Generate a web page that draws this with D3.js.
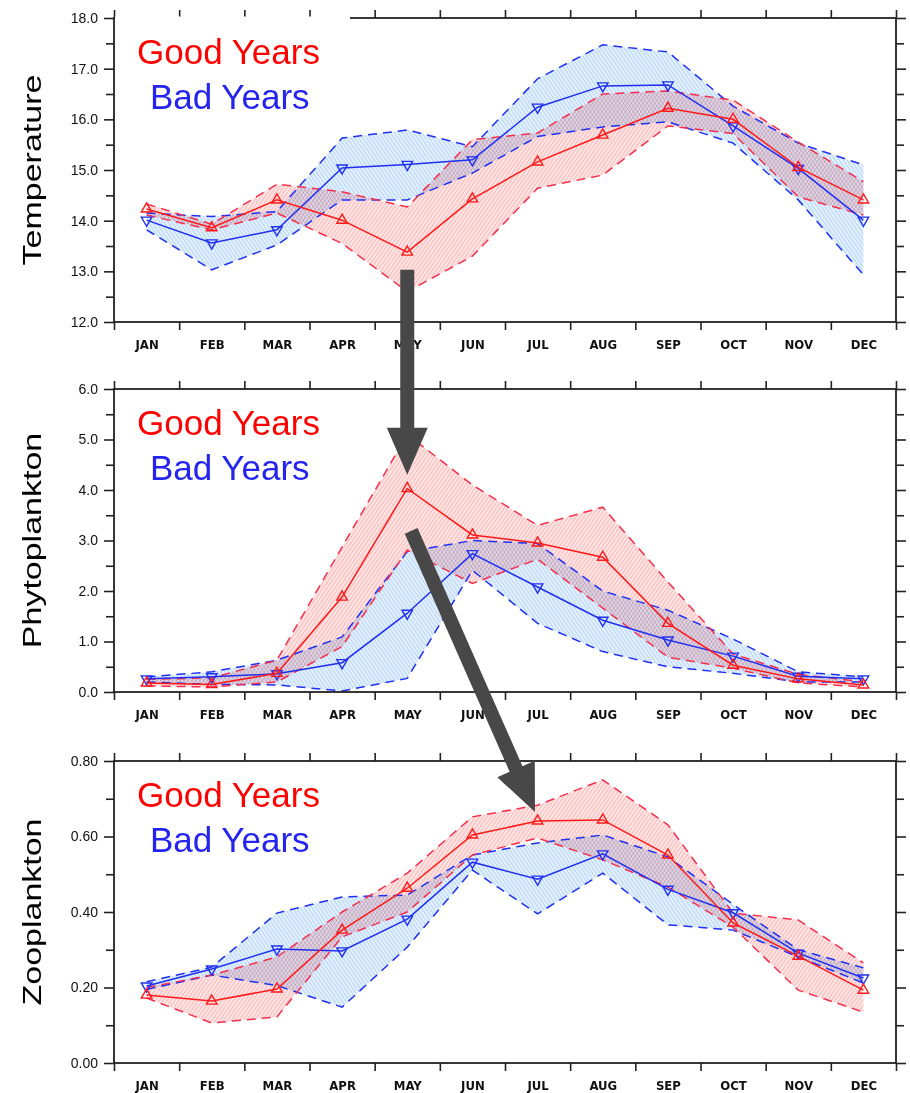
<!DOCTYPE html>
<html lang="en">
<head>
<meta charset="UTF-8">
<title>Good Years vs Bad Years</title>
<script src="https://d3js.org/d3.v7.min.js"></script>
<style>
  body { margin: 0; background: #fff; }
  svg { display: block; }
  .ylab text { font-family: "Liberation Sans", Arial, sans-serif; font-size: 14px; fill: #111; }
  .xlab text { font-family: "Liberation Sans Narrow", "DejaVu Sans Condensed", sans-serif; font-size: 13px; font-weight: bold; fill: #111; }
  .tick line { stroke: #222; stroke-width: 1.6px; }
  .title { font-family: "Liberation Sans", Arial, sans-serif; font-size: 34px; fill: #000; }
  .legend { font-family: "Liberation Sans", Arial, sans-serif; font-size: 35px; }
</style>
</head>
<body>
<svg id="chart" width="910" height="1093"></svg>
<script>
// months on the x axis
const months = ["JAN", "FEB", "MAR", "APR", "MAY", "JUN", "JUL", "AUG", "SEP", "OCT", "NOV", "DEC"];

// temperature: good years (red) and bad years (blue), mean with upper/lower envelope
const tempGood   = [14.23, 13.86, 14.41, 14.01, 13.38, 14.43, 15.16, 15.69, 16.22, 16.00, 15.05, 14.41];
const tempGoodHi = [14.33, 13.93, 14.72, 14.57, 14.27, 15.60, 15.73, 16.50, 16.56, 16.38, 15.55, 14.77];
const tempGoodLo = [14.11, 13.82, 14.15, 13.55, 12.60, 13.30, 14.64, 14.90, 15.87, 15.72, 14.47, 14.11];
const tempBad    = [14.01, 13.56, 13.82, 15.04, 15.11, 15.20, 16.24, 16.66, 16.68, 15.87, 15.03, 14.01];
const tempBadHi  = [14.15, 14.08, 14.18, 15.63, 15.79, 15.46, 16.80, 17.47, 17.33, 16.26, 15.53, 15.10];
const tempBadLo  = [13.82, 13.03, 13.52, 14.41, 14.41, 14.94, 15.66, 15.85, 15.95, 15.53, 14.41, 12.93];

// phytoplankton
const phytoGood   = [0.18, 0.15, 0.37, 1.88, 4.03, 3.11, 2.95, 2.67, 1.36, 0.53, 0.26, 0.14];
const phytoGoodHi = [0.25, 0.28, 0.63, 2.87, 5.10, 4.10, 3.30, 3.66, 2.18, 0.75, 0.35, 0.20];
const phytoGoodLo = [0.12, 0.10, 0.20, 0.90, 2.81, 2.15, 2.63, 1.66, 0.69, 0.47, 0.18, 0.10];
const phytoBad    = [0.26, 0.30, 0.36, 0.58, 1.56, 2.74, 2.08, 1.42, 1.03, 0.71, 0.31, 0.26];
const phytoBadHi  = [0.30, 0.40, 0.63, 1.09, 2.78, 3.00, 2.94, 2.00, 1.62, 1.05, 0.40, 0.30];
const phytoBadLo  = [0.20, 0.15, 0.14, 0.02, 0.27, 2.41, 1.36, 0.80, 0.50, 0.37, 0.20, 0.20];

// zooplankton
const zooGood   = [0.180, 0.164, 0.196, 0.352, 0.463, 0.604, 0.641, 0.644, 0.551, 0.371, 0.283, 0.193];
const zooGoodHi = [0.200, 0.233, 0.281, 0.400, 0.503, 0.652, 0.683, 0.750, 0.631, 0.397, 0.379, 0.265];
const zooGoodLo = [0.172, 0.106, 0.122, 0.334, 0.400, 0.551, 0.596, 0.538, 0.466, 0.360, 0.193, 0.135];
const zooBad    = [0.204, 0.249, 0.302, 0.297, 0.381, 0.532, 0.487, 0.554, 0.460, 0.398, 0.291, 0.225];
const zooBadHi  = [0.215, 0.254, 0.397, 0.440, 0.445, 0.551, 0.583, 0.604, 0.546, 0.420, 0.300, 0.252];
const zooBadLo  = [0.195, 0.233, 0.205, 0.148, 0.307, 0.511, 0.395, 0.503, 0.366, 0.352, 0.281, 0.212];

// y tick values per panel
const tempTicks  = [12, 13, 14, 15, 16, 17, 18];
const phytoTicks = [0, 1, 2, 3, 4, 5, 6];
const zooTicks   = [0, 0.2, 0.4, 0.6, 0.8];

// arrows: [panel, month index, value] start -> end
const arrows = [
  { from: [0, 4, 13.03], to: [1, 4, 4.3] },
  { from: [1, 4.06, 3.19], to: [2, 5.96, 0.665] }
];

const svg = d3.select("#chart");
const RED = "#ff1a1a", RED_D = "#f2304e", BLUE = "#2030f0";

const x = d3.scaleLinear().domain([-0.5, 11.5]).range([114, 896]);

const panels = [
  { title: "Temperature", top: 18, bottom: 322, domain: [12, 18], ticks: tempTicks, minor: 0.5, fmt: d3.format(".1f"),
    good: tempGood, goodHi: tempGoodHi, goodLo: tempGoodLo, bad: tempBad, badHi: tempBadHi, badLo: tempBadLo },
  { title: "Phytoplankton", top: 389, bottom: 692, domain: [0, 6], ticks: phytoTicks, minor: 0.5, fmt: d3.format(".1f"),
    good: phytoGood, goodHi: phytoGoodHi, goodLo: phytoGoodLo, bad: phytoBad, badHi: phytoBadHi, badLo: phytoBadLo },
  { title: "Zooplankton", top: 761, bottom: 1063, domain: [0, 0.8], ticks: zooTicks, minor: 0.1, fmt: d3.format(".2f"),
    good: zooGood, goodHi: zooGoodHi, goodLo: zooGoodLo, bad: zooBad, badHi: zooBadHi, badLo: zooBadLo }
];

// hatch patterns
const defs = svg.append("defs");
function hatch(id, color, angle) {
  defs.append("pattern")
    .attr("id", id)
    .attr("patternUnits", "userSpaceOnUse")
    .attr("width", 3.2).attr("height", 3.2)
    .attr("patternTransform", `rotate(${angle})`)
    .append("line")
      .attr("x1", 0).attr("y1", 0).attr("x2", 0).attr("y2", 3.2)
      .attr("stroke", color).attr("stroke-width", 0.9);
}
hatch("hatchRed", "#ffa3a3", 35);
hatch("hatchBlue", "#a9c6ff", -35);

panels.forEach(p => {
  p.y = d3.scaleLinear().domain(p.domain).range([p.bottom, p.top]);
});

panels.forEach((p, pi) => {
  const y = p.y;
  const g = svg.append("g");
  const idx = d3.range(12);

  const area = (lo, hi) => d3.area().x(i => x(i)).y0(i => y(lo[i])).y1(i => y(hi[i]))(idx);
  const line = d3.line().x((d, i) => x(i)).y(d => y(d));

  // bands
  [[p.badLo, p.badHi, "#e0effc", "hatchBlue"], [p.goodLo, p.goodHi, "#fde2e2", "hatchRed"]].forEach(([lo, hi, fill, pat]) => {
    g.append("path").attr("d", area(lo, hi)).attr("fill", fill)
      .style("mix-blend-mode", "multiply");
    g.append("path").attr("d", area(lo, hi)).attr("fill", `url(#${pat})`)
      .style("mix-blend-mode", "multiply");
  });

  // envelope lines
  [[p.badHi, BLUE], [p.badLo, BLUE], [p.goodHi, RED_D], [p.goodLo, RED_D]].forEach(([s, c]) => {
    g.append("path").attr("d", line(s)).attr("fill", "none")
      .attr("stroke", c).attr("stroke-width", 1.5).attr("stroke-dasharray", "9,6");
  });

  // mean lines and markers
  const sym = d3.symbol(d3.symbolTriangle, 48);
  [[p.bad, BLUE, 180], [p.good, RED, 0]].forEach(([s, c, rot]) => {
    g.append("path").attr("d", line(s)).attr("fill", "none")
      .attr("stroke", c).attr("stroke-width", 1.5);
    g.selectAll(null).data(s).join("path")
      .attr("d", sym)
      .attr("transform", (d, i) => `translate(${x(i)},${y(d)}) rotate(${rot})`)
      .attr("fill", "none").attr("stroke", c).attr("stroke-width", 1.4);
  });

  // axes
  const [lo, hi] = p.domain;
  const minorVals = d3.range(lo, hi + p.minor / 2, p.minor).filter(v => !p.ticks.some(t => Math.abs(t - v) < 1e-9));
  const bounds = d3.range(-0.5, 12, 1);

  svg.append("g").attr("transform", `translate(114,0)`)
    .call(d3.axisLeft(y).tickValues(minorVals).tickSize(8).tickFormat(""))
    .call(a => a.select(".domain").remove());
  svg.append("g").attr("class", "ylab").attr("transform", `translate(114,0)`)
    .call(d3.axisLeft(y).tickValues(p.ticks).tickSize(10).tickPadding(6).tickFormat(p.fmt))
    .call(a => a.select(".domain").remove());
  svg.append("g").attr("transform", `translate(896,0)`)
    .call(d3.axisRight(y).tickValues(minorVals).tickSize(8).tickFormat(""))
    .call(a => a.select(".domain").remove());
  svg.append("g").attr("transform", `translate(896,0)`)
    .call(d3.axisRight(y).tickValues(p.ticks).tickSize(10).tickFormat(""))
    .call(a => a.select(".domain").remove());
  svg.append("g").attr("transform", `translate(0,${p.bottom})`)
    .call(d3.axisBottom(x).tickValues(bounds).tickSize(8).tickFormat(""))
    .call(a => a.select(".domain").remove());
  svg.append("g").attr("transform", `translate(0,${p.top})`)
    .call(d3.axisTop(x).tickValues(bounds).tickSize(8).tickFormat(""))
    .call(a => a.select(".domain").remove());
  svg.append("g").attr("class", "xlab").attr("transform", `translate(0,${p.bottom})`)
    .call(d3.axisBottom(x).tickValues(idx).tickSize(0).tickFormat(i => months[i]))
    .call(a => a.select(".domain").remove())
    .call(a => a.selectAll("text").attr("y", 22).attr("dy", "0.35em"));

  // frame
  svg.append("rect")
    .attr("x", 114).attr("y", p.top)
    .attr("width", 896 - 114).attr("height", p.bottom - p.top)
    .attr("fill", "none").attr("stroke", "#222").attr("stroke-width", 1.8);

  // the pasted legend box hides part of the first frame
  if (pi === 0) {
    svg.append("rect").attr("x", 115).attr("y", 16.5).attr("width", 235).attr("height", 95).attr("fill", "#fff");
  }

  // y title
  svg.append("text").attr("class", "title")
    .attr("transform", `translate(32,${(p.top + p.bottom) / 2}) rotate(-90) scale(1,0.74)`)
    .attr("text-anchor", "middle").attr("dominant-baseline", "central")
    .text(p.title);

  // legend
  svg.append("text").attr("class", "legend").attr("x", 137).attr("y", p.top + 46)
    .attr("fill", "#ff0000").text("Good Years");
  svg.append("text").attr("class", "legend").attr("x", 150).attr("y", p.top + 91)
    .attr("fill", "#2424ee").text("Bad Years");
});

// arrows between panels
function arrowPath(x1, y1, x2, y2) {
  const sw = 14, hw = 41, hl = 47;
  const L = Math.hypot(x2 - x1, y2 - y1);
  const ux = (x2 - x1) / L, uy = (y2 - y1) / L;
  const nx = -uy, ny = ux;
  const bx = x2 - ux * hl, by = y2 - uy * hl;
  const pts = [
    [x1 + nx * sw / 2, y1 + ny * sw / 2],
    [bx + nx * sw / 2, by + ny * sw / 2],
    [bx + nx * hw / 2, by + ny * hw / 2],
    [x2, y2],
    [bx - nx * hw / 2, by - ny * hw / 2],
    [bx - nx * sw / 2, by - ny * sw / 2],
    [x1 - nx * sw / 2, y1 - ny * sw / 2]
  ];
  return "M" + pts.map(q => q.join(",")).join("L") + "Z";
}
arrows.forEach(a => {
  const [p1, m1, v1] = a.from, [p2, m2, v2] = a.to;
  svg.append("path")
    .attr("d", arrowPath(x(m1), panels[p1].y(v1), x(m2), panels[p2].y(v2)))
    .attr("fill", "#484848");
});
</script>
</body>
</html>
